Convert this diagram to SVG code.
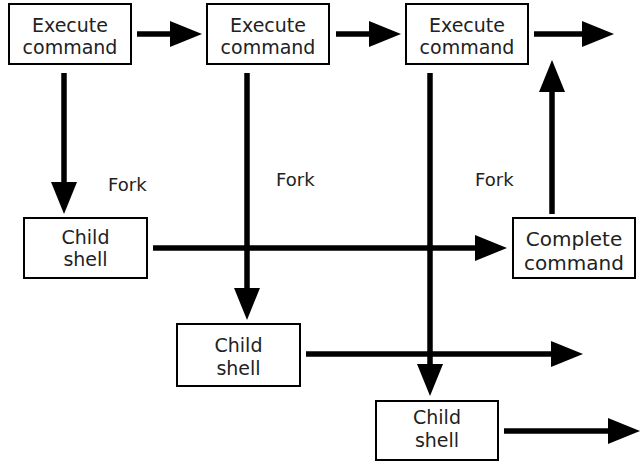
<svg xmlns="http://www.w3.org/2000/svg" width="640" height="462" viewBox="0 0 640 462">
  <style>
    .box { fill: #ffffff; stroke: #000000; stroke-width: 2; }
    .lbl { font-family: "DejaVu Sans", "Liberation Sans", sans-serif; font-size: 19px; fill: #222222; text-anchor: middle; }
    .fork { font-family: "DejaVu Sans", "Liberation Sans", sans-serif; font-size: 18px; fill: #222222; }
    .flow { fill: none; stroke: #000000; stroke-width: 5.5; marker-end: url(#head); }
  </style>
  <defs>
    <marker id="head" markerUnits="userSpaceOnUse" markerWidth="34" markerHeight="28" viewBox="0 -14 34 28" refX="1" refY="0" orient="auto">
      <path d="M0,-13 L32,0 L0,13 Z" fill="#000000"/>
    </marker>
  </defs>
  <rect width="640" height="462" fill="#ffffff"/>

  <!-- connectors -->
  <g id="connectors">
    <path class="flow" d="M137,34 H171"/>
    <path class="flow" d="M336,34 H370"/>
    <path class="flow" d="M534,34 H583"/>
    <path class="flow" d="M64,73 V183"/>
    <path class="flow" d="M247,73 V289"/>
    <path class="flow" d="M430,73 V365"/>
    <path class="flow" d="M153,248 H476"/>
    <path class="flow" d="M552,214 V91"/>
    <path class="flow" d="M306,354 H552"/>
    <path class="flow" d="M504,431 H609"/>
  </g>

  <!-- fork labels -->
  <g id="fork-labels">
    <text class="fork" x="108" y="191">Fork</text>
    <text class="fork" x="276" y="186">Fork</text>
    <text class="fork" x="475" y="186">Fork</text>
  </g>

  <!-- nodes -->
  <g id="exec1">
    <rect class="box" x="9" y="4" width="122" height="60"/>
    <text class="lbl" x="70" y="31.5">Execute</text>
    <text class="lbl" x="70" y="54">command</text>
  </g>
  <g id="exec2">
    <rect class="box" x="207" y="4" width="122" height="60"/>
    <text class="lbl" x="268" y="31.5">Execute</text>
    <text class="lbl" x="268" y="54">command</text>
  </g>
  <g id="exec3">
    <rect class="box" x="406" y="4" width="122" height="60"/>
    <text class="lbl" x="467" y="31.5">Execute</text>
    <text class="lbl" x="467" y="54">command</text>
  </g>
  <g id="child1">
    <rect class="box" x="24" y="218" width="123" height="60"/>
    <text class="lbl" x="85.5" y="244">Child</text>
    <text class="lbl" x="85.5" y="266">shell</text>
  </g>
  <g id="complete">
    <rect class="box" x="513" y="218" width="122" height="60"/>
    <text class="lbl" x="574" y="246" style="font-size:20px">Complete</text>
    <text class="lbl" x="574" y="270" style="font-size:20px">command</text>
  </g>
  <g id="child2">
    <rect class="box" x="177" y="324" width="123" height="62"/>
    <text class="lbl" x="238.5" y="352">Child</text>
    <text class="lbl" x="238.5" y="375">shell</text>
  </g>
  <g id="child3">
    <rect class="box" x="376" y="401" width="122" height="59"/>
    <text class="lbl" x="437" y="424">Child</text>
    <text class="lbl" x="437" y="447">shell</text>
  </g>
</svg>
